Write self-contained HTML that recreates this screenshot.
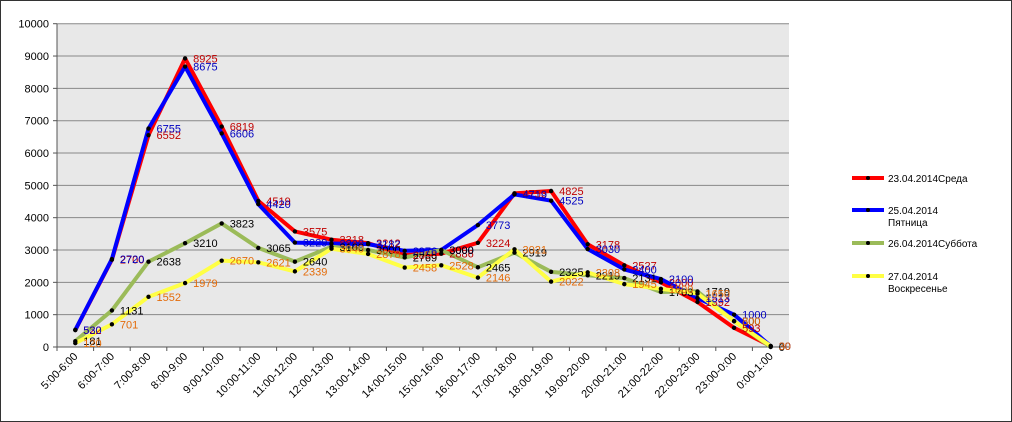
<!DOCTYPE html>
<html><head><meta charset="utf-8"><style>
body{margin:0;background:#fff}
svg{display:block;font-family:"Liberation Sans","DejaVu Sans",sans-serif}
</style></head><body>
<svg id="chart" width="1012" height="422" xmlns="http://www.w3.org/2000/svg">
<rect x="0.5" y="0.5" width="1011" height="421" fill="#fff" stroke="#333"/>
<rect x="57" y="23.7" width="732" height="323.3" fill="#e8e8e8"/>
<g id="grid"></g><g id="axes"></g><g id="series"></g><g id="labels"></g><g id="legend"></g>
</svg>
<script>
const categories=["5:00-6:00","6:00-7:00","7:00-8:00","8:00-9:00","9:00-10:00","10:00-11:00","11:00-12:00","12:00-13:00","13:00-14:00","14:00-15:00","15:00-16:00","16:00-17:00","17:00-18:00","18:00-19:00","19:00-20:00","20:00-21:00","21:00-22:00","22:00-23:00","23:00-0:00","0:00-1:00"];
const wed=[522,2700,6552,8925,6819,4519,3575,3318,3212,2850,2886,3224,4753,4825,3178,2527,2000,1392,593,30];
const fri=[530,2720,6755,8675,6606,4420,3229,3200,3182,2976,3000,3773,4719,4525,3030,2400,2100,1513,1000,30];
const sat=[181,1131,2638,3210,3823,3065,2640,3100,3000,2769,3000,2465,2919,2325,2219,2131,1703,1719,800,0];
const sun=[120,701,1552,1979,2670,2621,2339,3040,2878,2458,2528,2146,3021,2022,2308,1945,1800,1650,800,30];
const yTicks=[0,1000,2000,3000,4000,5000,6000,7000,8000,9000,10000];
const seriesNames=["23.04.2014Среда","25.04.2014|Пятница","26.04.2014Суббота","27.04.2014|Воскресенье"];
const NS="http://www.w3.org/2000/svg";
const X0=57,X1=789,Y0=347,Y1=23.7,YMAX=10000;
const step=(X1-X0)/categories.length;
function xs(i){return X0+step*(i+0.5);}
function ys(v){return Y0-(v/YMAX)*(Y0-Y1);}
function mk(tag,attrs,parent){const e=document.createElementNS(NS,tag);for(const k in attrs)e.setAttribute(k,attrs[k]);parent.appendChild(e);return e;}
const grid=document.getElementById('grid'),axes=document.getElementById('axes'),ser=document.getElementById('series'),lab=document.getElementById('labels'),leg=document.getElementById('legend');
yTicks.forEach(t=>{
  const g=mk('line',{x1:X0,x2:X1,y1:ys(t),y2:ys(t),stroke:'#888','stroke-width':1},grid);
  
  
  const tk=mk('line',{x1:X0-4,x2:X0,y1:ys(t),y2:ys(t),stroke:'#555'},axes);
  
  
  const tx=mk('text',{x:X0-8,y:ys(t)+4,'text-anchor':'end','font-size':11,fill:'#000'},axes);
  tx.textContent=t;
  
  
});
const ax=mk('line',{x1:X0,x2:X0,y1:Y1,y2:Y0,stroke:'#555'},axes);


const bx=mk('line',{x1:X0,x2:X1,y1:Y0,y2:Y0,stroke:'#555'},axes);


categories.forEach((c,i)=>{
  const tk=mk('line',{x1:X0+step*i,x2:X0+step*i,y1:Y0,y2:Y0+4,stroke:'#555'},axes);
  
  
  const x=xs(i)+3,y=Y0+10;
  const tx=mk('text',{x:x,y:y,'text-anchor':'end','font-size':11,transform:`rotate(-45 ${x} ${y})`},axes);
  tx.textContent=c;
  
  
});
const defs=[[wed,'#ff0000','#c00000','series-wednesday',4],[fri,'#0000ff','#0000c0','series-friday',4],[sat,'#9bbb59','#000000','series-saturday',4],[sun,'#ffff44','#e46c0a','series-sunday',4]];
defs.forEach(([d,col,lc,name,w])=>{
  const p=mk('polyline',{points:d.map((v,i)=>xs(i)+','+ys(v)).join(' '),fill:'none',stroke:col,'stroke-width':w,'stroke-linejoin':'round'},ser);
  
  
});
defs.forEach(([d,col,lc,name])=>{
  d.forEach((v,i)=>{
    const c=mk('circle',{cx:xs(i),cy:ys(v),r:2.2,fill:'#000'},ser);
    
    
    const t=mk('text',{x:xs(i)+8,y:ys(v)+4,'font-size':11,fill:lc},lab);
    t.textContent=v;
    
    
  });
});
const ly=[178,210,243,276];
defs.forEach(([d,col,lc,name],k)=>{
  const l=mk('line',{x1:852,x2:884,y1:ly[k],y2:ly[k],stroke:col,'stroke-width':4},leg);
  
  
  const c=mk('circle',{cx:868,cy:ly[k],r:2,fill:'#000'},leg);
  
  
  const parts=seriesNames[k].split('|');
  parts.forEach((s,j)=>{
    const t=mk('text',{x:888,y:ly[k]+4+j*12,'font-size':10,fill:'#000'},leg);
    t.textContent=s;
    
    
  });
});
</script>
</body></html>
